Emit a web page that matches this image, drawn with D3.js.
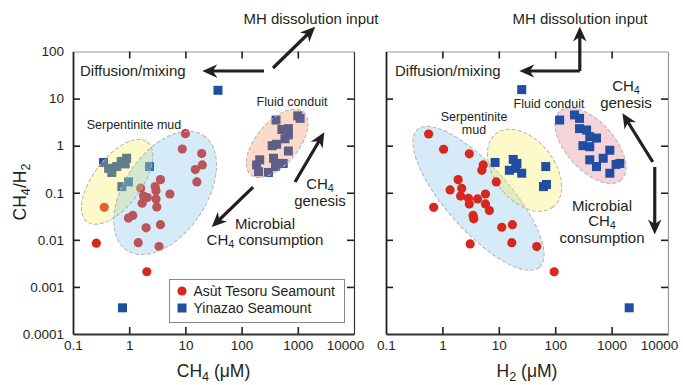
<!DOCTYPE html>
<html>
<head>
<meta charset="utf-8">
<script src="https://cdn.jsdelivr.net/npm/d3@7"></script>
<style>
  body { margin: 0; background: #fff; }
  svg { display: block; font-family: "Liberation Sans", Arial, Helvetica, sans-serif; }
  text { fill: #231f20; }
</style>
</head>
<body>
<svg id="chart" width="683" height="385"></svg>
<script>
// --- data: [x, CH4/H2] ---
// left panel: x = CH4 (uM)
const asutLeft = [
  [10, 1.8], [8.8, 0.85], [19.5, 0.68], [20, 0.39], [15, 0.31], [16, 0.17],
  [3.6, 0.19], [2.9, 0.135], [3.0, 0.11], [3.0, 0.074], [3.1, 0.05], [5.3, 0.094],
  [2.1, 0.079], [1.7, 0.06], [1.8, 0.085], [1.16, 0.033], [0.97, 0.029], [2.0, 0.018],
  [3.6, 0.021], [1.45, 0.0087], [3.4, 0.0072], [2.06, 0.0021], [0.26, 0.0085],
  [0.36, 0.049], [1.6, 0.125]
];
const yinazaoLeft = [
  [0.35, 0.44], [0.43, 0.33], [0.49, 0.27], [0.6, 0.36], [0.72, 0.46], [0.9, 0.54],
  [0.85, 0.41], [2.3, 0.36], [0.97, 0.17], [0.74, 0.135],
  [38, 15], [0.76, 0.00036],
  [410, 3.5], [1000, 4.3], [1100, 3.8], [520, 2.2], [680, 2.3], [680, 1.7], [590, 1.4],
  [350, 1.0], [420, 1.07], [680, 0.77], [210, 0.5], [185, 0.39], [200, 0.28],
  [370, 0.54], [450, 0.42], [550, 0.42], [300, 0.27], [400, 0.36]
];
// right panel: x = H2 (uM)
const asutRight = [
  [0.57, 1.77], [1.05, 0.84], [3.0, 0.67], [5.3, 0.39], [5.0, 0.3], [9, 0.17],
  [1.9, 0.19], [1.37, 0.115], [2.2, 0.124], [2.1, 0.085], [2.9, 0.076], [3.0, 0.058],
  [4.2, 0.074], [5.8, 0.094], [5.8, 0.058], [6.8, 0.042], [3.5, 0.033], [3.6, 0.028],
  [0.7, 0.049], [11.3, 0.0185], [17.4, 0.021], [3.1, 0.0082], [17, 0.0087],
  [47, 0.0072], [96, 0.0021]
];
const yinazaoRight = [
  [8.6, 0.44], [18, 0.51], [21, 0.42], [15.4, 0.3], [25.5, 0.26], [20, 0.33],
  [68, 0.36], [62, 0.135], [70, 0.15],
  [25.5, 15.5], [2050, 0.00036],
  [120, 3.5], [220, 4.5], [270, 3.8], [270, 2.3], [360, 2.15], [410, 1.55], [540, 1.45],
  [310, 1.0], [410, 0.95], [930, 0.8], [410, 0.5], [710, 0.54], [540, 0.36],
  [1200, 0.4], [1400, 0.42], [930, 0.26]
];
const xTicks = [0.1, 1, 10, 100, 1000, 10000];
const yTicks = [0.0001, 0.001, 0.01, 0.1, 1, 10, 100];
const seriesNames = ["Asùt Tesoru Seamount", "Yinazao Seamount"];

// --- layout / style ---
const RED = "#d8271d", BLUE = "#1f4ea2";
const ZONE_ALPHA = 0.3;   // zones are translucent washes (over the points on the left panel)
const plotTop = 51.5, plotBottom = 334;
const y = d3.scaleLog().domain([0.0001, 100]).range([plotBottom, plotTop]);
const panels = [
  { x: d3.scaleLog().domain([0.1, 10000]).range([73, 354]), asut: asutLeft, yin: yinazaoLeft,
    xTitle: [["CH"], ["4", 1], [" (μM)"]], yLabels: true, zonesOnTop: true,
    zones: [
      { cx: 0.61, cy: 0.17, rx: 50, ry: 24, a: -53, fill: "#f8eb4b" },
      { cx: 4.36, cy: 0.099, rx: 69, ry: 41, a: -56, fill: "#73bce4" },
      { cx: 429, cy: 1.12, rx: 41, ry: 21, a: -50, fill: "#f2834e" }
    ],
    arrows: [[[362, 44.6], [1790, 286]], [[250, 38.5], [24, 38.5]],
             [[891, 0.169], [2700, 1.6]], [[160, 0.132], [33.6, 0.0217]]] },
  { x: d3.scaleLog().domain([0.1, 10000]).range([386, 668]), asut: asutRight, yin: yinazaoRight,
    xTitle: [["H"], ["2", 1], [" (μM)"]], yLabels: false, zonesOnTop: false,
    zones: [
      { cx: 4.36, cy: 0.076, rx: 92, ry: 32, a: 48.4, fill: "#73bce4" },
      { cx: 28.6, cy: 0.30, rx: 46.5, ry: 30, a: 52, fill: "#f8eb4b" },
      { cx: 422, cy: 1.0, rx: 46, ry: 24, a: 48, fill: "#de6c80" }
    ],
    arrows: [[[273, 38.5], [27.8, 38.5]], [[273, 38.5], [273, 272]],
             [[5370, 0.45], [1714, 4.06]], [[5820, 0.352], [5820, 0.0162]]] }
];

const svg = d3.select("#chart");
svg.append("defs").append("marker")
  .attr("id", "head").attr("viewBox", "0 0 10 10")
  .attr("refX", 7).attr("refY", 5)
  .attr("markerUnits", "userSpaceOnUse").attr("markerWidth", 15).attr("markerHeight", 15)
  .attr("orient", "auto")
  .append("path").attr("d", "M0,0.5 L10,5 L0,9.5 L3,5 Z").attr("fill", "#231f20");

// text with subscripts: parts = [[str, isSub], ...]
function rich(g, x, yy, parts, size, anchor = "middle") {
  const t = g.append("text").attr("x", x).attr("y", yy)
    .attr("text-anchor", anchor).style("font-size", size + "px");
  let shifted = false;
  parts.forEach(([s, sub]) => {
    const ts = t.append("tspan").text(s);
    if (sub && !shifted) { ts.attr("dy", "0.28em").style("font-size", "0.72em"); shifted = true; }
    else if (sub) ts.style("font-size", "0.72em");
    else if (shifted) { ts.attr("dy", "-0.2em"); shifted = false; }
  });
  return t;
}

function drawZones(g, p) {
  g.selectAll("ellipse.zone").data(p.zones).enter().append("ellipse")
    .attr("class", "zone")
    .attr("rx", d => d.rx).attr("ry", d => d.ry)
    .attr("transform", d => `translate(${p.x(d.cx)},${y(d.cy)}) rotate(${d.a})`)
    .attr("fill", d => d.fill).attr("fill-opacity", ZONE_ALPHA)
    .attr("stroke", "#b4b4b4").attr("stroke-width", 1).attr("stroke-dasharray", "4,2");
}

panels.forEach(p => {
  const g = svg.append("g");
  const [x0, x1] = p.x.range();

  if (!p.zonesOnTop) drawZones(g, p);

  g.selectAll("circle.asut").data(p.asut).enter().append("circle")
    .attr("cx", d => p.x(d[0])).attr("cy", d => y(d[1])).attr("r", 4.6).attr("fill", RED);
  g.selectAll("rect.yin").data(p.yin).enter().append("rect")
    .attr("x", d => p.x(d[0]) - 4.5).attr("y", d => y(d[1]) - 4.5)
    .attr("width", 9).attr("height", 9).attr("fill", BLUE);

  if (p.zonesOnTop) drawZones(g, p);

  // axes: ticks pointing inward on all four sides
  const bAx = g.append("g").attr("transform", `translate(0,${plotBottom})`)
    .call(d3.axisBottom(p.x).tickValues(xTicks).tickFormat(d => String(d))
      .tickSize(-7).tickSizeOuter(0).tickPadding(6));
  const tAx = g.append("g").attr("transform", `translate(0,${plotTop})`)
    .call(d3.axisTop(p.x).tickValues(xTicks.slice(1, -1)).tickFormat("").tickSize(-7).tickSizeOuter(0));
  const lAx = g.append("g").attr("transform", `translate(${x0},0)`)
    .call(d3.axisLeft(y).tickValues(yTicks).tickFormat(p.yLabels ? (d => String(d)) : "")
      .tickSize(-7).tickSizeOuter(0).tickPadding(9));
  const rAx = g.append("g").attr("transform", `translate(${x1},0)`)
    .call(d3.axisRight(y).tickValues(yTicks.slice(1, -1)).tickFormat("").tickSize(-7).tickSizeOuter(0));
  [bAx, tAx, lAx, rAx].forEach(a => {
    a.selectAll(".tick line").attr("stroke", "#231f20").attr("stroke-width", 1.6);
    a.selectAll("text").style("font-size", "13.5px").attr("fill", "#231f20");
  });
  bAx.selectAll(".tick").filter(d => d === 0.1 || d === 10000).select("line").remove();
  bAx.selectAll(".tick").filter(d => d === 10000).select("text").attr("dx", -9);
  lAx.selectAll(".tick").filter(d => d === 0.0001 || d === 100).select("line").remove();
  bAx.select(".domain").attr("stroke", "#333").attr("stroke-width", 1.8);
  lAx.select(".domain").attr("stroke", "#231f20").attr("stroke-width", 1.8);
  tAx.select(".domain").attr("stroke", "#999").attr("stroke-width", 1.2);
  rAx.select(".domain").attr("stroke", p.yLabels ? "#333" : "#999").attr("stroke-width", 1.2);

  rich(g, (x0 + x1) / 2, 377, p.xTitle, 17.5);

  // process arrows
  g.selectAll("line.arrow").data(p.arrows).enter().append("line")
    .attr("x1", d => p.x(d[0][0])).attr("y1", d => y(d[0][1]))
    .attr("x2", d => p.x(d[1][0])).attr("y2", d => y(d[1][1]))
    .attr("stroke", "#231f20").attr("stroke-width", 3.2)
    .attr("marker-end", "url(#head)");
});

// y title
rich(svg.append("g").attr("transform", "translate(26,192) rotate(-90)"), 0, 0,
  [["CH"], ["4", 1], ["/H"], ["2", 1]], 17.5);

// annotations, left panel
const ann = svg.append("g");
rich(ann, 311, 24, [["MH dissolution input"]], 15);
rich(ann, 80, 76, [["Diffusion/mixing"]], 15, "start");
rich(ann, 134, 129, [["Serpentinite mud"]], 12.5);
rich(ann, 292, 106, [["Fluid conduit"]], 12.5);
rich(ann, 320, 189, [["CH"], ["4", 1]], 15);
rich(ann, 320, 206, [["genesis"]], 15);
rich(ann, 265, 229, [["Microbial"]], 15);
rich(ann, 265, 245, [["CH"], ["4", 1], [" consumption"]], 15);

// annotations, right panel
rich(ann, 580, 24, [["MH dissolution input"]], 15);
rich(ann, 395, 76, [["Diffusion/mixing"]], 15, "start");
rich(ann, 474, 121, [["Serpentinite"]], 12.5);
rich(ann, 474, 134, [["mud"]], 12.5);
rich(ann, 549, 108, [["Fluid conduit"]], 12.5);
rich(ann, 626, 91, [["CH"], ["4", 1]], 15);
rich(ann, 626, 108, [["genesis"]], 15);
rich(ann, 602, 211, [["Microbial"]], 15);
rich(ann, 602, 226, [["CH"], ["4", 1]], 15);
rich(ann, 602, 243, [["consumption"]], 15);

// legend (left panel)
const lg = svg.append("g").attr("transform", "translate(169.5,279.5)");
lg.append("rect").attr("width", 175).attr("height", 43)
  .attr("fill", "#fff").attr("stroke", "#888").attr("stroke-width", 1);
lg.append("circle").attr("cx", 12.5).attr("cy", 11.5).attr("r", 4.6).attr("fill", RED);
lg.append("rect").attr("x", 8).attr("y", 24).attr("width", 9).attr("height", 9).attr("fill", BLUE);
seriesNames.forEach((s, i) =>
  lg.append("text").attr("x", 24).attr("y", 16.5 + i * 17).style("font-size", "14px").text(s));
</script>
</body>
</html>
